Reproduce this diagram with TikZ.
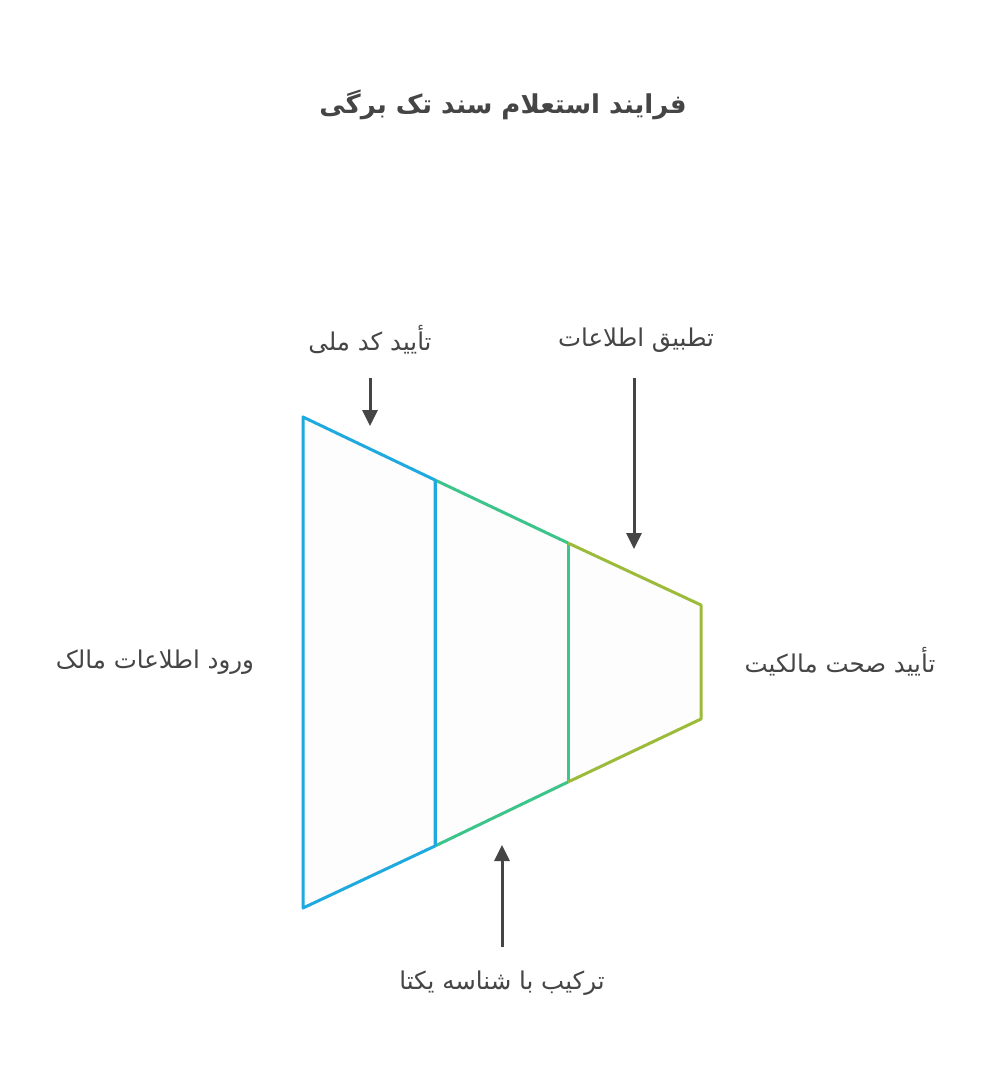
\documentclass[tikz,border=0pt]{standalone}
\usepackage{fontspec}
\newfontfamily\arabicfont[Script=Arabic]{DejaVu Sans}
\TeXXeTstate=1
\usetikzlibrary{arrows.meta}
\definecolor{fblue}{HTML}{1EAADF}
\definecolor{fgreen}{HTML}{3CC48A}
\definecolor{flime}{HTML}{9CBB3A}
\definecolor{ink}{HTML}{454545}
\newcommand{\fatext}[1]{{\arabicfont\beginR #1\endR}}
\begin{document}
\begin{tikzpicture}[x=1pt,y=-1pt]
\tikzstyle{every node}+=[inner sep=0pt, text=ink]
\tikzstyle{lbl}=[font=\fontsize{24.5}{28}\selectfont]
\tikzstyle{edge}=[line width=3pt, line join=round]
\tikzstyle{arr}=[line width=3pt, draw=ink, -{Triangle[length=16pt,width=15pt]}]
\fill[white] (0,0) rectangle (985,1080);
\useasboundingbox (0,0) rectangle (985,1080);
% title
\node[font=\bfseries\fontsize{26}{30}\selectfont] (title) at (503,105) {\fatext{فرایند استعلام سند تک برگی}};
% funnel sections
\fill[black!0.6] (303,417) -- (435,480) -- (435,846) -- (303,908) -- cycle;
\fill[black!0.6] (435,480) -- (568,543) -- (568,782) -- (435,846) -- cycle;
\fill[black!0.6] (568,543) -- (701,605) -- (701,719) -- (568,782) -- cycle;
\draw[edge, fblue] (435,480) -- (303,417) -- (303,908) -- (435,846) -- cycle;
\draw[edge, fgreen] (435,480) -- (568,543);
\draw[edge, fgreen] (435,846) -- (568,782);
\draw[edge, fgreen] (568,543) -- (568,782);
\draw[edge, flime] (568,543) -- (701,605) -- (701,719) -- (568,782);
\draw[edge, fblue] (435,480) -- (435,846);
% labels
\node[lbl] (kod) at (370,340) {\fatext{تأیید کد ملی}};
\node[lbl] (tatbiq) at (636,340) {\fatext{تطبیق اطلاعات}};
\node[lbl] (vorud) at (155,662) {\fatext{ورود اطلاعات مالک}};
\node[lbl] (sehat) at (840,662) {\fatext{تأیید صحت مالکیت}};
\node[lbl] (tarkib) at (502,983) {\fatext{ترکیب با شناسه یکتا}};
% arrows
\coordinate (k1) at (370,378);
\coordinate (k2) at (370,426);
\coordinate (t1) at (634,378);
\coordinate (t2) at (634,549);
\coordinate (r1) at (502,947);
\coordinate (r2) at (502,845);
\draw[arr] (k1) -- (k2);
\draw[arr] (t1) -- (t2);
\draw[arr] (r1) -- (r2);
\end{tikzpicture}
\end{document}
